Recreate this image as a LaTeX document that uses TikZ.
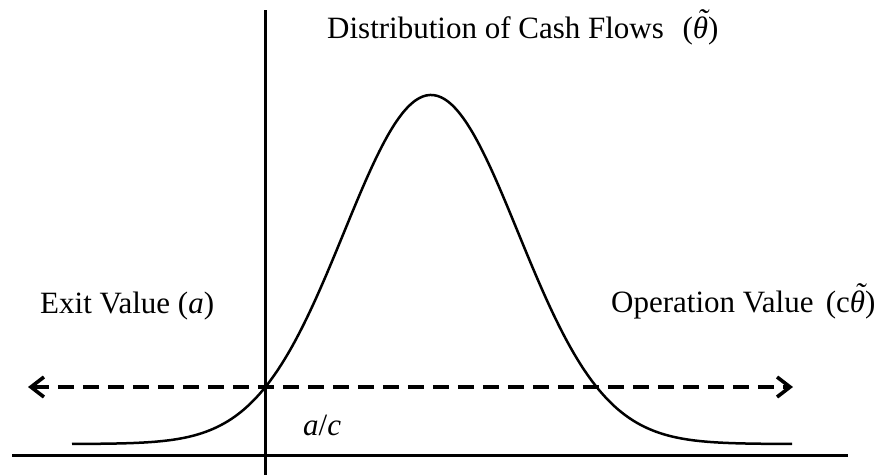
\documentclass[tikz,border=0pt]{standalone}
\usepackage{fontspec}
\setmainfont{Liberation Serif}
\usetikzlibrary{arrows.meta}
\newcommand{\tth}{{\itshape\accent"02DC θ}}
\begin{document}
\begin{tikzpicture}[x=1pt,y=-1pt,
  lbl/.style={inner sep=0pt, anchor=base west, font=\fontsize{31}{37}\selectfont},
  axisline/.style={line width=3pt},
  curveline/.style={line width=2.5pt},
  dashline/.style={line width=3.6pt, dash pattern=on 16pt off 9pt,
     {Straight Barb[length=13pt,width=20pt,line width=3.6pt]}-{Straight Barb[length=13pt,width=20pt,line width=3.6pt]}}]
\useasboundingbox (0,0) rectangle (879,475);
% axes
\coordinate (xl) at (12,455);
\coordinate (xr) at (848,455);
\coordinate (yt) at (265,10);
\coordinate (yb) at (265,475);
\draw[axisline] (xl) -- (xr);
\draw[axisline] (yt) -- (yb);
% bell curve
\draw[curveline, domain=72:792, samples=200, smooth]
  plot (\x, {444 - 349*exp(-0.5*((\x-431)/87)^2)});
% dashed double arrow
\coordinate (dl) at (28,387);
\coordinate (dr) at (793,387);
\draw[dashline] (dl) -- (dr);
% labels
\node[lbl] (title) at (327,38) {Distribution of Cash Flows\hspace{0.6em}(\tth)};
\node[lbl] (exit) at (40,313) {Exit Value (\textit{a})};
\node[lbl] (oper) at (611,312) {Operation Value\hspace{0.4em}(c\tth)};
\node[lbl] (ac) at (303,435) {\textit{a}/\textit{c}};
\end{tikzpicture}
\end{document}
